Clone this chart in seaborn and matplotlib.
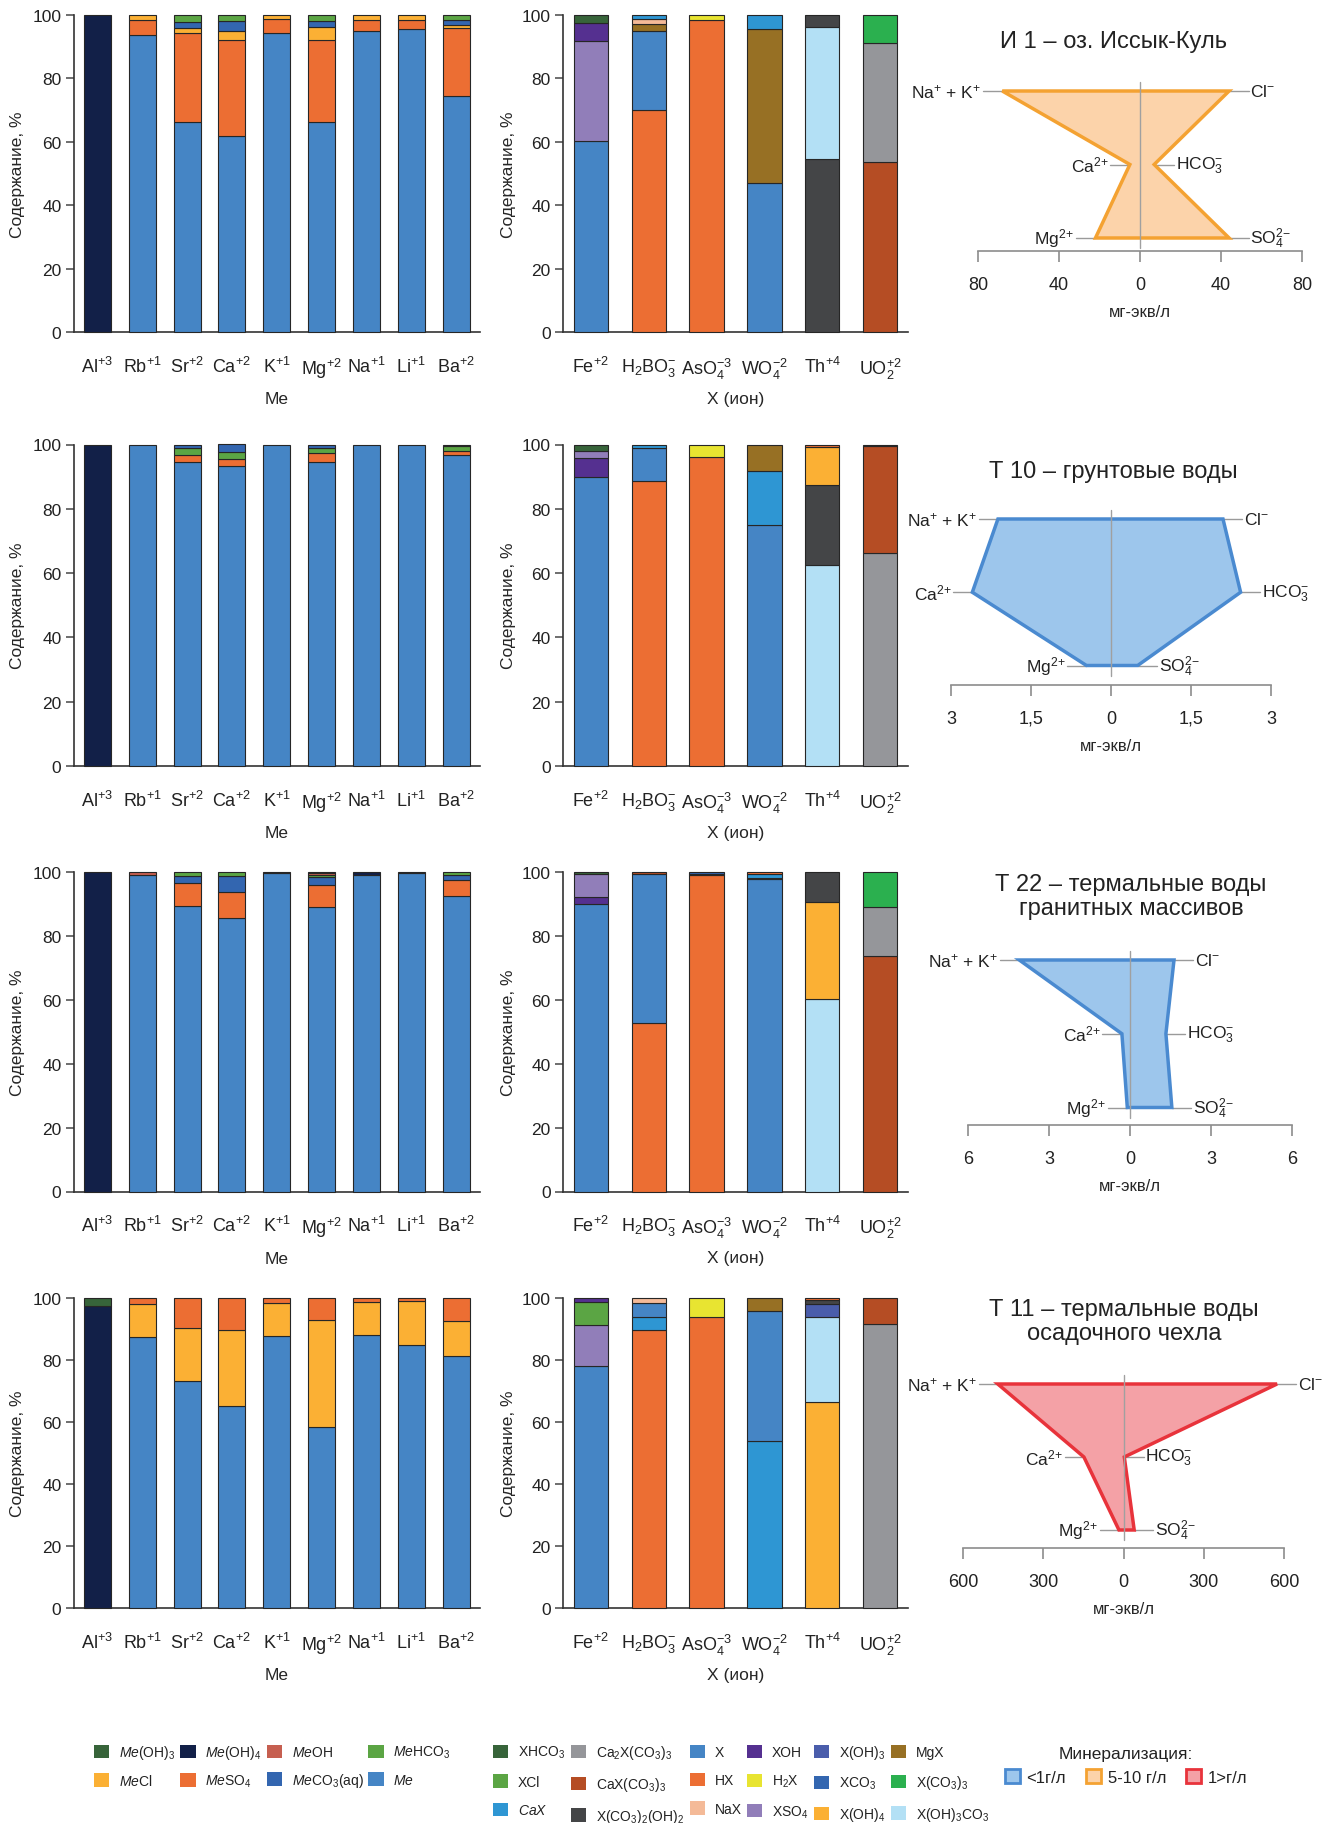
import numpy as np
import matplotlib
matplotlib.use("Agg")
import matplotlib.pyplot as plt
import seaborn as sns
from matplotlib.patches import Patch

sns.set_style("ticks")
plt.rcParams["font.family"] = ["Liberation Sans", "DejaVu Sans"]
plt.rcParams["mathtext.fontset"] = "custom"
plt.rcParams["mathtext.rm"] = "Liberation Sans"
plt.rcParams["mathtext.it"] = "Liberation Sans:italic"
plt.rcParams["mathtext.bf"] = "Liberation Sans:bold"
plt.rcParams["text.color"] = "#222222"
plt.rcParams["xtick.color"] = "#222222"
plt.rcParams["ytick.color"] = "#222222"

# ---------------- data ----------------
me_ions = [r"Al$^{+3}$", r"Rb$^{+1}$", r"Sr$^{+2}$", r"Ca$^{+2}$", r"K$^{+1}$",
           r"Mg$^{+2}$", r"Na$^{+1}$", r"Li$^{+1}$", r"Ba$^{+2}$"]
x_ions = [r"Fe$^{+2}$", r"H$_2$BO$_3^{-}$", r"AsO$_4^{-3}$", r"WO$_4^{-2}$",
          r"Th$^{+4}$", r"UO$_2^{+2}$"]

# species in every stacked bar, bottom -> top, and their shares, %
i1_me_parts = [["Me(OH)4"], ["Me", "MeSO4", "MeCl"],
               ["Me", "MeSO4", "MeCl", "MeCO3", "MeHCO3"],
               ["Me", "MeSO4", "MeCl", "MeCO3", "MeHCO3"],
               ["Me", "MeSO4", "MeCl"],
               ["Me", "MeSO4", "MeCl", "MeCO3", "MeHCO3"],
               ["Me", "MeSO4", "MeCl"], ["Me", "MeSO4", "MeCl"],
               ["Me", "MeSO4", "MeCl", "MeCO3", "MeHCO3"]]
i1_me_vals = [[100], [93.6, 4.9, 1.5], [66.1, 28.2, 1.7, 1.9, 2.1],
              [61.9, 30.2, 2.7, 3.3, 1.9], [94.4, 4.4, 1.2],
              [66.3, 25.9, 4.1, 1.8, 1.9], [95.0, 3.3, 1.7], [95.5, 2.8, 1.7],
              [74.3, 21.6, 1.1, 1.3, 1.7]]

t10_me_parts = [["Me(OH)4"], ["Me"], ["Me", "MeSO4", "MeHCO3", "MeCO3"],
                ["Me", "MeSO4", "MeHCO3", "MeCO3"], ["Me"],
                ["Me", "MeSO4", "MeHCO3", "MeCO3"], ["Me"], ["Me"],
                ["Me", "MeSO4", "MeHCO3", "MeCO3"]]
t10_me_vals = [[100], [100], [94.5, 2.1, 2.3, 1.1], [93.3, 2.2, 2.1, 2.4], [100],
               [94.7, 2.7, 1.6, 1.0], [100], [100], [96.6, 1.3, 1.5, 0.6]]

t22_me_parts = [["Me(OH)4"], ["Me", "MeOH"], ["Me", "MeSO4", "MeCO3", "MeHCO3"],
                ["Me", "MeSO4", "MeCO3", "MeHCO3"], ["Me", "MeOH"],
                ["Me", "MeSO4", "MeCO3", "MeHCO3", "MeOH", "Me(OH)4"],
                ["Me", "Me(OH)4"], ["Me", "MeOH"],
                ["Me", "MeSO4", "MeCO3", "MeHCO3"]]
t22_me_vals = [[100], [99.1, 0.9], [89.2, 7.3, 2.0, 1.5], [85.4, 8.1, 5.25, 1.25],
               [99.6, 0.4], [89.0, 6.7, 2.5, 0.8, 0.6, 0.4], [99.1, 0.9],
               [99.6, 0.4], [92.3, 5.0, 1.8, 0.9]]

t11_me_parts = [["Me(OH)4", "Me(OH)3"]] + [["Me", "MeCl", "MeSO4"]] * 8
t11_me_vals = [[97.5, 2.5], [87.5, 10.6, 1.9], [73.3, 16.9, 9.8], [65.1, 24.6, 10.3],
               [87.6, 10.8, 1.6], [58.3, 34.7, 7.0], [88.0, 10.6, 1.4],
               [85.0, 14.1, 0.9], [81.4, 11.1, 7.5]]

i1_x_parts = [["X", "XSO4", "XOH", "XHCO3"], ["HX", "X", "MgX", "NaX", "CaX"],
              ["HX", "H2X"], ["X", "MgX", "CaX"],
              ["XCO32OH2", "XOH3CO3", "XCO32OH2"],
              ["CaXCO33", "Ca2XCO33", "XCO33"]]
i1_x_vals = [[60.1, 31.7, 5.8, 2.4], [70.1, 24.9, 2.3, 1.3, 1.4], [98.3, 1.7],
             [47.0, 48.7, 4.3], [54.6, 41.6, 3.8], [53.7, 37.6, 8.7]]

t10_x_parts = [["X", "XOH", "XSO4", "XHCO3"], ["HX", "X", "CaX"], ["HX", "H2X"],
               ["X", "CaX", "MgX"], ["XOH3CO3", "XCO32OH2", "XOH4", "HX"],
               ["Ca2XCO33", "CaXCO33", "XHCO3"]]
t10_x_vals = [[89.8, 5.9, 2.3, 2.0], [88.8, 10.1, 1.1], [96.0, 4.0],
              [75.0, 16.9, 8.1], [62.5, 24.9, 11.8, 0.8], [66.1, 33.3, 0.6]]

t22_x_parts = [["X", "XOH", "XSO4", "XHCO3"], ["HX", "X", "CaXCO33"],
               ["HX", "XCl", "XCO3"], ["X", "XCO3", "CaX", "HX"],
               ["XOH3CO3", "XOH4", "XCO32OH2"], ["CaXCO33", "Ca2XCO33", "XCO33"]]
t22_x_vals = [[89.9, 2.2, 7.2, 0.7], [52.6, 46.7, 0.7], [99.0, 0.4, 0.6],
              [97.7, 0.4, 1.3, 0.6], [60.1, 30.3, 9.6], [73.6, 15.3, 11.1]]

t11_x_parts = [["X", "XSO4", "XCl", "XOH"], ["HX", "CaX", "X", "NaX"], ["HX", "H2X"],
               ["CaX", "X", "MgX"], ["XOH4", "XOH3CO3", "XOH3", "XCO32OH2", "HX"],
               ["Ca2XCO33", "CaXCO33"]]
t11_x_vals = [[78.2, 13.2, 7.4, 1.2], [89.7, 4.2, 4.6, 1.5], [94.0, 6.0],
              [54.0, 41.9, 4.1], [66.3, 27.6, 4.3, 1.2, 0.6], [91.5, 8.5]]

# Stiff diagrams: cations [Na+K, Ca, Mg], anions [Cl, HCO3, SO4], mg-eq/l
i1_cations, i1_anions = [68, 5, 22], [44, 7, 44]
t10_cations, t10_anions = [2.12, 2.6, 0.46], [2.1, 2.43, 0.5]
t22_cations, t22_anions = [4.1, 0.3, 0.1], [1.63, 1.33, 1.55]
t11_cations, t11_anions = [470, 148, 17], [574, 3, 40]
i1_ticks, i1_ticklabels = [-80, -40, 0, 40, 80], ["80", "40", "0", "40", "80"]
t10_ticks, t10_ticklabels = [-3, -1.5, 0, 1.5, 3], ["3", "1,5", "0", "1,5", "3"]
t22_ticks, t22_ticklabels = [-6, -3, 0, 3, 6], ["6", "3", "0", "3", "6"]
t11_ticks, t11_ticklabels = [-600, -300, 0, 300, 600], ["600", "300", "0", "300", "600"]

titles = ["И 1 – оз. Иссык-Куль", "Т 10 – грунтовые воды",
          "Т 22 – термальные воды\nгранитных массивов",
          "Т 11 – термальные воды\nосадочного чехла"]

# ---------------- colours ----------------
me_colors = {"Me(OH)3": "#37643a", "Me(OH)4": "#122048", "MeOH": "#c65f50",
             "MeHCO3": "#5ba544", "MeCl": "#fbb034", "MeSO4": "#ec6e33",
             "MeCO3": "#3366b0", "Me": "#4585c5"}
x_colors = {"XHCO3": "#37643a", "XCl": "#5ba544", "CaX": "#2e96d3",
            "Ca2XCO33": "#95969a", "CaXCO33": "#b54d24", "XCO32OH2": "#444547",
            "X": "#4585c5", "HX": "#ec6e33", "NaX": "#f4ba98", "XOH": "#553090",
            "H2X": "#e8e431", "XSO4": "#917eb9", "XOH3": "#4a5dab",
            "XCO3": "#3366b0", "XOH4": "#fbb034", "MgX": "#977024",
            "XCO33": "#2bb04f", "XOH3CO3": "#b3e0f5"}
orange = ("#f4a232", "#fcd3aa")
blue = ("#4a8ad0", "#9dc6ec")
red = ("#e8333b", "#f4a1a6")

W, H = 1333, 1824
fig = plt.figure(figsize=(W / 100, H / 100), dpi=100)


def rect(l, t, r, b):
    return [l / W, 1 - b / H, (r - l) / W, (b - t) / H]


def bar_panel(l, t, r, b, names, parts, vals, colors, xlim, width, xlabel, ylab_x):
    ax = fig.add_axes(rect(l, t, r, b))
    for i, (p, v) in enumerate(zip(parts, vals)):
        bottoms = np.concatenate([[0], np.cumsum(v)[:-1]])
        ax.bar([i] * len(v), v, bottom=bottoms, width=width,
               color=[colors[k] for k in p], edgecolor="#262626",
               linewidth=0.8, clip_on=False, zorder=3)
    ax.set_xlim(*xlim)
    ax.set_ylim(0, 100)
    ax.set_xticks(range(len(names)))
    ax.set_xticklabels(names)
    ax.set_yticks(range(0, 101, 20))
    ax.tick_params(axis="x", length=0, pad=17, labelsize=13)
    ax.tick_params(axis="y", direction="out", length=6, width=1.2,
                   color="#555555", pad=3, labelsize=12.5)
    sns.despine(ax=ax)
    for s in ("left", "bottom"):
        ax.spines[s].set_color("#333333")
        ax.spines[s].set_linewidth(1.2)
    h = b - t
    ax.set_xlabel(xlabel, fontsize=12.5)
    ax.xaxis.set_label_coords(0.5, -59 / h)
    ax.set_ylabel("Содержание, %", fontsize=12.5)
    # ylabel anchor is the right edge of the rotated text
    ax.yaxis.set_label_coords((ylab_x + 8 - l) / (r - l), 0.5)
    return ax


def stiff_panel(l, r, na_y, mg_y, ax_y, cations, anions, ticks, ticklabels, col):
    m = ticks[-1]
    s = (mg_y - na_y) / 2
    top_px = na_y - 0.35 * s
    ax = fig.add_axes(rect(l, top_px, r, ax_y))
    ax.set_xlim(-m, m)
    ax.set_ylim(1 - (ax_y - mg_y) / s, 3.35)
    rows = [3, 2, 1]
    xs = [-cations[0], -cations[1], -cations[2], anions[2], anions[1], anions[0]]
    ys = [3, 2, 1, 1, 2, 3]
    ax.fill(xs, ys, facecolor=col[1], edgecolor=col[0], linewidth=2.5,
            joinstyle="miter", zorder=3)
    ax.plot([0, 0], [3.12, 0.86], color="#a0a0a0", lw=1, zorder=4)
    ll = 0.12 * m
    gap = 0.012 * m
    clabels = [r"Na$^{+}$ + K$^{+}$", r"Ca$^{\text{2+}}$", r"Mg$^{\text{2+}}$"]
    alabels = [r"Cl$^{-}$", r"HCO$_3^{-}$", r"SO$_4^{\text{2−}}$"]
    for y, c, a, cl, al in zip(rows, cations, anions, clabels, alabels):
        ax.plot([-c - ll, -c], [y, y], color="#9a9a9a", lw=1, zorder=2, clip_on=False)
        ax.plot([a, a + ll], [y, y], color="#9a9a9a", lw=1, zorder=2, clip_on=False)
        ax.text(-c - ll - gap, y, cl, ha="right", va="center", fontsize=12.5)
        ax.text(a + ll + gap, y, al, ha="left", va="center", fontsize=12.5)
    ax.set_yticks([])
    ax.set_xticks(ticks)
    ax.set_xticklabels(ticklabels)
    for s_ in ("left", "right", "top"):
        ax.spines[s_].set_visible(False)
    ax.spines["bottom"].set_color("#8c8c8c")
    ax.spines["bottom"].set_linewidth(1.2)
    ax.patch.set_alpha(0)
    ax.tick_params(axis="x", direction="out", length=8, width=1.2,
                   color="#8c8c8c", pad=10, labelsize=13)
    ax.set_xlabel("мг-экв/л", fontsize=12)
    ax.xaxis.set_label_coords(0.5, -53 / (ax_y - top_px))
    return ax


rows_px = [(16, 333), (445.5, 767), (872.7, 1192.5), (1299, 1609)]
me_sets = [(i1_me_parts, i1_me_vals), (t10_me_parts, t10_me_vals),
           (t22_me_parts, t22_me_vals), (t11_me_parts, t11_me_vals)]
x_sets = [(i1_x_parts, i1_x_vals), (t10_x_parts, t10_x_vals),
          (t22_x_parts, t22_x_vals), (t11_x_parts, t11_x_vals)]

for (t, b), (mp, mv), (xp, xv) in zip(rows_px, me_sets, x_sets):
    bar_panel(74, t, 480, b, me_ions, mp, mv, me_colors, (-0.52, 8.53), 0.6, "Me", 17)
    bar_panel(563, t, 908, b, x_ions, xp, xv, x_colors, (-0.48, 5.48), 0.59,
              "X (ион)", 508)

stiff_panel(978, 1302, 92, 239, 252, i1_cations, i1_anions, i1_ticks, i1_ticklabels, orange)
stiff_panel(951, 1271, 520, 666.5, 686, t10_cations, t10_anions, t10_ticks, t10_ticklabels, blue)
stiff_panel(968, 1292, 961, 1108.5, 1126, t22_cations, t22_anions, t22_ticks, t22_ticklabels, blue)
stiff_panel(963, 1284, 1385, 1531, 1549, t11_cations, t11_anions, t11_ticks, t11_ticklabels, red)

for txt, (x, y) in zip(titles, [(1114, 42), (1113, 472), (1131, 897), (1124, 1322)]):
    fig.text(x / W, 1 - y / H, txt, ha="center", va="center", fontsize=17,
             linespacing=1.15)

# ---------------- legends ----------------
me_leg = [("Me(OH)3", r"$\mathit{Me}$(OH)$_3$"), ("MeCl", r"$\mathit{Me}$Cl"),
          ("Me(OH)4", r"$\mathit{Me}$(OH)$_4$"), ("MeSO4", r"$\mathit{Me}$SO$_4$"),
          ("MeOH", r"$\mathit{Me}$OH"), ("MeCO3", r"$\mathit{Me}$CO$_3$(aq)"),
          ("MeHCO3", r"$\mathit{Me}$HCO$_3$"), ("Me", r"$\mathit{Me}$")]
leg1 = fig.legend([Patch(facecolor=me_colors[k], edgecolor="none") for k, _ in me_leg],
                  [lab for _, lab in me_leg], ncol=4, loc="upper left",
                  bbox_to_anchor=(94 / W, 1 - 1744 / H), frameon=False, fontsize=10,
                  handlelength=1.1, handleheight=1.1, handletextpad=0.7,
                  columnspacing=0.35, labelspacing=0.85, borderpad=0, borderaxespad=0)

x_leg = [("XHCO3", "XHCO$_3$"), ("XCl", "XCl"), ("CaX", r"$\mathit{CaX}$"),
         ("Ca2XCO33", "Ca$_2$X(CO$_3$)$_3$"), ("CaXCO33", "CaX(CO$_3$)$_3$"),
         ("XCO32OH2", "X(CO$_3$)$_2$(OH)$_2$"), ("X", "X"), ("HX", "HX"),
         ("NaX", "NaX"), ("XOH", "XOH"), ("H2X", "H$_2$X"), ("XSO4", "XSO$_4$"),
         ("XOH3", "X(OH)$_3$"), ("XCO3", "XCO$_3$"), ("XOH4", "X(OH)$_4$"),
         ("MgX", "MgX"), ("XCO33", "X(CO$_3$)$_3$"), ("XOH3CO3", "X(OH)$_3$CO$_3$")]
leg2 = fig.legend([Patch(facecolor=x_colors[k], edgecolor="none") for k, _ in x_leg],
                  [lab for _, lab in x_leg], ncol=6, loc="upper left",
                  bbox_to_anchor=(493 / W, 1 - 1744 / H), frameon=False, fontsize=10,
                  handlelength=1.1, handleheight=1.1, handletextpad=0.7,
                  columnspacing=0.4, labelspacing=1.0, borderpad=0, borderaxespad=0)

min_handles = [Patch(facecolor=c[1], edgecolor=c[0], linewidth=2) for c in (blue, orange, red)]
leg3 = fig.legend(min_handles, ["<1г/л", "5-10 г/л", "1>г/л"], ncol=3,
                  loc="upper center", bbox_to_anchor=(1126 / W, 1 - 1747 / H),
                  frameon=False, fontsize=12, title="Минерализация:",
                  title_fontsize=12.5, handlelength=0.9, handleheight=0.9,
                  handletextpad=0.4, columnspacing=1.2, borderpad=0, borderaxespad=0)

fig.savefig("out.png", dpi=100)
